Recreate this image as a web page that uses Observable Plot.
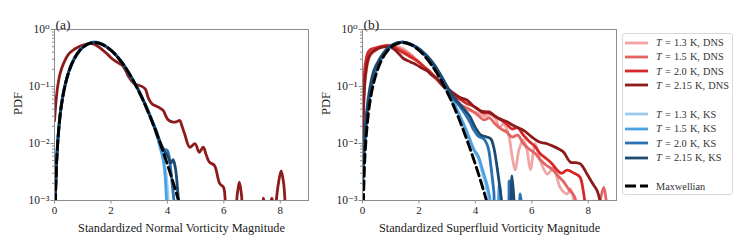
<!DOCTYPE html>
<html><head><meta charset="utf-8">
<script src="https://cdn.jsdelivr.net/npm/d3@7"></script>
<script src="https://cdn.jsdelivr.net/npm/@observablehq/plot@0.6"></script>
<style>
body{margin:0;background:#fff;}
#wrap{position:relative;width:747px;height:249px;font-family:"Liberation Serif","DejaVu Serif",serif;color:#222;overflow:hidden}
#pa{position:absolute;left:0;top:0}
#pb{position:absolute;left:308px;top:0}
#leg{position:absolute;left:622px;top:33px;width:111px;height:162px;border:1px solid #d8d8d8;border-radius:3px;box-sizing:border-box}
.row{position:absolute;left:0;height:14px;display:flex;align-items:center;font-size:10.3px;white-space:nowrap;color:#333;word-spacing:0.6px}
.row svg{margin-left:2px;margin-right:8px}
</style></head><body>
<div id="wrap"><div id="pa"></div><div id="pb"></div><div id="leg"></div></div>
<script>
// ---------- tick values ----------
const xTicks = [0, 2, 4, 6, 8];
const yTicks = [1e-3, 1e-2, 1e-1, 1];
const yTickLabels = ["10⁻³", "10⁻²", "10⁻¹", "10⁰"];
const yMinorTicks = [2e-3,3e-3,4e-3,5e-3,6e-3,7e-3,8e-3,9e-3,2e-2,3e-2,4e-2,5e-2,6e-2,7e-2,8e-2,9e-2,0.2,0.3,0.4,0.5,0.6,0.7,0.8,0.9];
const xLabelA = "Standardized Normal Vorticity Magnitude";
const xLabelB = "Standardized Superfluid Vorticity Magnitude";

// ---------- legend ----------
const legendLabels = ["1.3 K, DNS", "1.5 K, DNS", "2.0 K, DNS", "2.15 K, DNS", "1.3 K, KS", "1.5 K, KS", "2.0 K, KS", "2.15 K, KS", "Maxwellian"];
const seriesColors = ["#f2a5a5", "#e36464", "#d62828", "#8e1b1b", "#9ccbef", "#4aa2e3", "#2a72b4", "#1c4a70", "#000000"];

// ---------- Maxwellian (both panels) ----------
const maxwellian = [[0,0.0001],[0.05,0.002],[0.1,0.0079],[0.2,0.031],[0.3,0.069],[0.4,0.118],[0.5,0.176],[0.6,0.24],[0.8,0.371],[1.0,0.484],[1.2,0.559],[1.4,0.587],[1.6,0.568],[1.8,0.512],[2.0,0.432],[2.2,0.343],[2.4,0.258],[2.6,0.183],[2.8,0.124],[3.0,0.080],[3.2,0.049],[3.4,0.0285],[3.6,0.0158],[3.8,0.0084],[4.0,0.0043],[4.2,0.0021],[4.4,0.00097],[4.6,0.0004]];

// ---------- panel (a): normal vorticity ----------
const aDNS215 = [[0,0.025],[0.1,0.09],[0.2,0.17],[0.3,0.24],[0.5,0.37],[0.7,0.45],[0.9,0.51],[1.1,0.55],[1.25,0.57],[1.4,0.55],[1.55,0.5],[1.7,0.44],[1.85,0.38],[2.0,0.32],[2.2,0.27],[2.4,0.235],[2.52,0.19],[2.63,0.148],[2.8,0.115],[2.98,0.105],[3.1,0.1],[3.22,0.09],[3.33,0.062],[3.45,0.05],[3.57,0.046],[3.7,0.043],[3.85,0.038],[3.95,0.03],[4.03,0.026],[4.2,0.0237],[4.32,0.024],[4.44,0.0253],[4.52,0.02],[4.61,0.0148],[4.79,0.0086],[4.98,0.0099],[5.13,0.007],[5.27,0.0086],[5.38,0.0062],[5.49,0.0047],[5.67,0.0041],[5.85,0.002],[5.99,0.0017],[6.05,0.001],[6.12,0.0004],[6.38,0.0004],[6.47,0.0012],[6.55,0.0021],[6.63,0.0012],[6.72,0.0004],[7.3,0.0004],[7.4,0.0011],[7.5,0.0007],[7.6,0.0007],[7.7,0.0011],[7.8,0.0007],[7.92,0.0018],[8.03,0.0033],[8.12,0.002],[8.2,0.0006],[8.3,0.0003]];
const aKS13 = [[0.02,0.0008],[0.1,0.009],[0.2,0.034],[0.3,0.072],[0.4,0.12],[0.5,0.18],[0.6,0.245],[0.8,0.375],[1.0,0.49],[1.2,0.565],[1.4,0.6],[1.6,0.575],[1.8,0.515],[2.0,0.43],[2.2,0.345],[2.4,0.26],[2.6,0.185],[2.8,0.125],[3.0,0.082],[3.2,0.05],[3.4,0.029],[3.6,0.015],[3.75,0.0085],[3.85,0.0055],[3.95,0.003],[4.02,0.0012],[4.08,0.0004]];
const aKS15 = [[0.02,0.0008],[0.1,0.0085],[0.2,0.033],[0.3,0.07],[0.4,0.118],[0.5,0.178],[0.6,0.242],[0.8,0.37],[1.0,0.485],[1.2,0.56],[1.4,0.605],[1.6,0.58],[1.8,0.51],[2.0,0.43],[2.2,0.35],[2.4,0.262],[2.6,0.18],[2.8,0.122],[3.0,0.083],[3.2,0.05],[3.4,0.03],[3.6,0.016],[3.72,0.0095],[3.82,0.0062],[3.9,0.0035],[3.96,0.0012],[4.0,0.0004]];
const aKS20 = [[0.02,0.0008],[0.1,0.0082],[0.2,0.032],[0.3,0.07],[0.4,0.12],[0.5,0.18],[0.6,0.244],[0.8,0.372],[1.0,0.488],[1.2,0.562],[1.4,0.595],[1.6,0.572],[1.8,0.515],[2.0,0.435],[2.2,0.345],[2.4,0.26],[2.6,0.184],[2.8,0.125],[3.0,0.081],[3.2,0.05],[3.4,0.029],[3.6,0.017],[3.7,0.012],[3.8,0.0088],[3.9,0.0078],[4.0,0.0075],[4.08,0.005],[4.16,0.0022],[4.24,0.0009],[4.3,0.0004]];
const aKS215 = [[0.02,0.0008],[0.1,0.008],[0.2,0.032],[0.3,0.069],[0.4,0.118],[0.5,0.177],[0.6,0.242],[0.8,0.372],[1.0,0.486],[1.2,0.562],[1.4,0.592],[1.6,0.57],[1.8,0.512],[2.0,0.433],[2.2,0.345],[2.4,0.26],[2.6,0.185],[2.8,0.125],[3.0,0.081],[3.2,0.05],[3.4,0.029],[3.6,0.0165],[3.7,0.012],[3.8,0.0092],[3.9,0.0072],[3.97,0.0065],[4.05,0.0055],[4.12,0.0045],[4.2,0.0052],[4.28,0.0038],[4.36,0.0016],[4.42,0.0007],[4.5,0.0003]];

// ---------- panel (b): superfluid vorticity ----------
const bDNS13 = [[0,0.01],[0.05,0.06],[0.1,0.13],[0.2,0.28],[0.3,0.36],[0.5,0.44],[0.7,0.5],[0.9,0.53],[1.1,0.52],[1.3,0.49],[1.5,0.44],[1.7,0.37],[1.9,0.3],[2.1,0.24],[2.3,0.19],[2.5,0.15],[2.7,0.12],[2.9,0.095],[3.1,0.07],[3.3,0.052],[3.5,0.045],[3.7,0.04],[3.9,0.036],[4.1,0.034],[4.3,0.03],[4.5,0.032],[4.7,0.028],[4.85,0.019],[5.0,0.022],[5.18,0.014],[5.3,0.006],[5.41,0.0034],[5.55,0.008],[5.7,0.0115],[5.83,0.0075],[5.95,0.0035],[6.12,0.0099],[6.3,0.005],[6.55,0.0029],[6.77,0.0038],[7.0,0.0017],[7.25,0.0013],[7.37,0.0016],[7.5,0.0009],[7.6,0.0004]];
const bDNS15 = [[0,0.012],[0.05,0.07],[0.1,0.18],[0.2,0.33],[0.3,0.4],[0.5,0.46],[0.7,0.5],[0.9,0.52],[1.1,0.5],[1.3,0.46],[1.5,0.41],[1.7,0.35],[1.9,0.29],[2.1,0.24],[2.3,0.19],[2.5,0.155],[2.7,0.125],[2.9,0.1],[3.1,0.078],[3.3,0.058],[3.5,0.047],[3.7,0.042],[3.9,0.037],[4.1,0.031],[4.3,0.026],[4.5,0.028],[4.7,0.022],[4.9,0.018],[5.1,0.016],[5.3,0.013],[5.5,0.014],[5.7,0.01],[5.9,0.008],[6.1,0.0068],[6.3,0.0052],[6.5,0.0042],[6.7,0.0036],[6.9,0.0028],[7.1,0.0022],[7.3,0.0016],[7.5,0.0012],[7.6,0.0008],[7.75,0.0004],[8.25,0.0004],[8.42,0.001],[8.55,0.0017],[8.65,0.0009],[8.8,0.0004]];
const bDNS20 = [[0,0.015],[0.05,0.1],[0.1,0.25],[0.2,0.4],[0.3,0.45],[0.5,0.48],[0.7,0.51],[0.9,0.52],[1.1,0.49],[1.3,0.43],[1.5,0.38],[1.7,0.33],[1.9,0.29],[2.1,0.24],[2.3,0.2],[2.5,0.16],[2.7,0.125],[2.9,0.1],[3.1,0.082],[3.3,0.066],[3.5,0.058],[3.7,0.05],[3.9,0.046],[4.1,0.04],[4.3,0.034],[4.5,0.036],[4.7,0.03],[4.9,0.026],[5.1,0.022],[5.3,0.018],[5.5,0.019],[5.7,0.014],[5.9,0.011],[6.1,0.009],[6.3,0.0066],[6.5,0.0055],[6.7,0.0045],[6.9,0.0034],[7.05,0.003],[7.25,0.0034],[7.5,0.003],[7.7,0.0026],[7.82,0.0015],[7.9,0.0008],[8.0,0.0004]];
const bDNS215 = [[0,0.012],[0.05,0.06],[0.1,0.15],[0.2,0.3],[0.3,0.38],[0.5,0.45],[0.7,0.49],[0.9,0.5],[1.1,0.46],[1.3,0.37],[1.45,0.31],[1.7,0.27],[1.93,0.237],[2.1,0.21],[2.28,0.19],[2.45,0.16],[2.64,0.138],[2.87,0.1],[3.1,0.085],[3.3,0.072],[3.46,0.064],[3.7,0.058],[3.94,0.045],[4.2,0.037],[4.4,0.036],[4.53,0.034],[4.8,0.028],[5.12,0.024],[5.4,0.02],[5.71,0.017],[6.0,0.013],[6.3,0.0105],[6.54,0.0099],[6.75,0.009],[7.0,0.0078],[7.13,0.007],[7.37,0.0047],[7.55,0.0046],[7.72,0.0044],[7.96,0.0029],[8.15,0.002],[8.31,0.0015],[8.43,0.0009],[8.5,0.0004]];
const bKS13 = [[0,0.0015],[0.1,0.012],[0.2,0.042],[0.3,0.088],[0.4,0.14],[0.6,0.26],[0.8,0.38],[1.0,0.49],[1.2,0.565],[1.4,0.6],[1.6,0.585],[1.8,0.525],[2.0,0.445],[2.2,0.36],[2.4,0.27],[2.6,0.19],[2.8,0.13],[3.0,0.085],[3.2,0.053],[3.4,0.033],[3.6,0.019],[3.8,0.011],[3.95,0.0075],[4.1,0.0055],[4.25,0.003],[4.4,0.0016],[4.5,0.0009],[4.6,0.0004]];
const bKS15 = [[0,0.002],[0.1,0.014],[0.2,0.045],[0.3,0.09],[0.4,0.15],[0.6,0.27],[0.8,0.39],[1.0,0.5],[1.2,0.57],[1.4,0.6],[1.6,0.58],[1.8,0.52],[2.0,0.44],[2.2,0.36],[2.4,0.27],[2.6,0.195],[2.8,0.135],[3.0,0.088],[3.2,0.056],[3.4,0.035],[3.6,0.021],[3.8,0.012],[3.95,0.0078],[4.1,0.006],[4.25,0.0035],[4.4,0.002],[4.5,0.0012],[4.6,0.0007],[4.75,0.0007],[4.85,0.0019],[4.95,0.0007],[5.05,0.0004]];
const bKS20 = [[0,0.002],[0.1,0.016],[0.2,0.05],[0.3,0.1],[0.4,0.16],[0.6,0.28],[0.8,0.4],[1.0,0.5],[1.2,0.57],[1.4,0.6],[1.6,0.58],[1.8,0.52],[2.0,0.45],[2.2,0.37],[2.4,0.29],[2.6,0.21],[2.8,0.145],[3.0,0.097],[3.2,0.065],[3.4,0.048],[3.6,0.035],[3.8,0.024],[3.95,0.017],[4.1,0.0135],[4.3,0.012],[4.45,0.0085],[4.55,0.004],[4.65,0.0015],[4.75,0.0006],[5.1,0.0006],[5.2,0.0022],[5.3,0.0006],[5.5,0.0005],[5.59,0.0013],[5.68,0.0005]];
const bKS215 = [[0,0.003],[0.1,0.02],[0.2,0.06],[0.3,0.12],[0.4,0.19],[0.6,0.3],[0.8,0.42],[1.0,0.52],[1.2,0.58],[1.4,0.6],[1.6,0.58],[1.8,0.53],[2.0,0.46],[2.2,0.38],[2.4,0.3],[2.6,0.22],[2.8,0.15],[3.0,0.1],[3.2,0.068],[3.4,0.052],[3.6,0.04],[3.8,0.03],[4.0,0.019],[4.2,0.014],[4.4,0.013],[4.55,0.012],[4.65,0.0086],[4.77,0.0038],[4.88,0.0015],[4.95,0.0008],[5.05,0.0004],[5.2,0.0005],[5.3,0.0027],[5.4,0.0005]];

const panelA = [aDNS215, aKS13, aKS15, aKS20, aKS215];
const panelAColors = [3, 4, 5, 6, 7];
const panelB = [bDNS13, bDNS15, bDNS20, bDNS215, bKS13, bKS15, bKS20, bKS215];
const panelBColors = [0, 1, 2, 3, 4, 5, 6, 7];

const FONT = '"Liberation Serif","DejaVu Serif",serif';
const GRID = "#8c8c8c";

function panel(series, colorIdx, xlabel, tag) {
  const lines = series.map((s, i) => Plot.line(s, {
    x: d => d[0], y: d => d[1], stroke: seriesColors[colorIdx[i]],
    strokeWidth: 2.8, curve: "catmull-rom", clip: true
  }));
  return Plot.plot({
    width: 322, height: 249,
    marginLeft: 54, marginRight: 14, marginTop: 29, marginBottom: 49,
    style: {fontFamily: FONT, fontSize: "10.5px", color: "#222", background: "transparent", overflow: "visible"},
    x: {domain: [0, 9]},
    y: {type: "log", domain: [1e-3, 1]},
    marks: [
      ...lines,
      Plot.line(maxwellian, {x: d => d[0], y: d => d[1], stroke: "#000", strokeWidth: 2.9,
        strokeDasharray: "9,4.5", curve: "catmull-rom", clip: true}),
      Plot.frame({stroke: GRID, strokeWidth: 1}),
      Plot.axisY({ticks: yMinorTicks, tickSize: 2, tickFormat: () => "", label: null, stroke: GRID}),
      Plot.axisY({ticks: yTicks, tickSize: 3.5, tickPadding: 1.5, stroke: GRID,
        tickFormat: v => yTickLabels[yTicks.indexOf(v)], label: null, fontSize: 11.5}),
      Plot.axisX({ticks: xTicks, tickSize: 3.5, tickPadding: 2, stroke: GRID, label: null, fontSize: 11}),
      Plot.text(["PDF"], {frameAnchor: "left", dx: -37, rotate: -90, fontSize: 12.5, fill: "#222"}),
      Plot.text([xlabel], {frameAnchor: "bottom", dy: 31, fontSize: 12.3, fill: "#222"}),
      Plot.text([tag], {frameAnchor: "top-left", textAnchor: "start", lineAnchor: "bottom", dx: 1, dy: -1, fontSize: 13.5, fill: "#222"})
    ]
  });
}

document.getElementById("pa").appendChild(panel(panelA, panelAColors, xLabelA, "(a)"));
document.getElementById("pb").appendChild(panel(panelB, panelBColors, xLabelB, "(b)"));

// legend
const rowTops = [1.7, 15.7, 30, 44, 73, 87.7, 102, 116.7, 145];
const leg = d3.select("#leg");
legendLabels.forEach((lab, i) => {
  const row = leg.append("div").attr("class", "row").style("top", rowTops[i] + "px");
  const svg = row.append("svg").attr("width", 23).attr("height", 6);
  svg.append("line").attr("x1", 0).attr("x2", 23).attr("y1", 3).attr("y2", 3)
    .attr("stroke", seriesColors[i]).attr("stroke-width", 2.8)
    .attr("stroke-dasharray", i === 8 ? "11,4" : null);
  const span = row.append("span");
  if (i === 8) span.text(lab);
  else { span.append("i").text("T"); span.append("span").text(" = " + lab); }
});
</script>
</body></html>
